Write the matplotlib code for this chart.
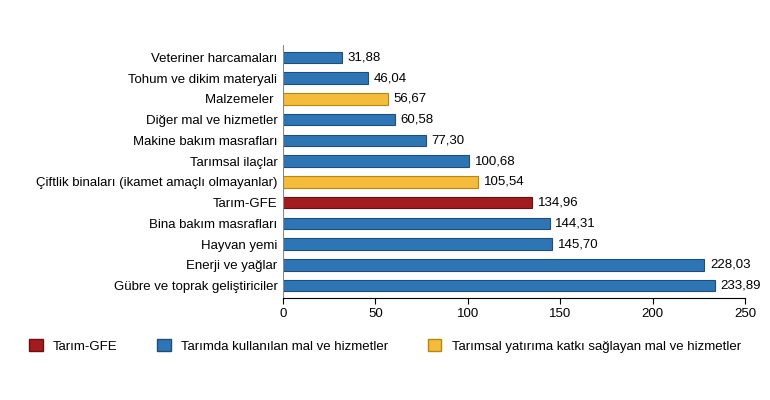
import matplotlib.pyplot as plt
from matplotlib.patches import Patch

plt.rcParams["font.family"] = ["Liberation Sans", "DejaVu Sans"]

categories = ["Veteriner harcamaları", "Tohum ve dikim materyali", "Malzemeler ",
              "Diğer mal ve hizmetler", "Makine bakım masrafları", "Tarımsal ilaçlar",
              "Çiftlik binaları (ikamet amaçlı olmayanlar)", "Tarım-GFE",
              "Bina bakım masrafları", "Hayvan yemi", "Enerji ve yağlar",
              "Gübre ve toprak geliştiriciler"]
values = [31.88, 46.04, 56.67, 60.58, 77.30, 100.68, 105.54, 134.96, 144.31, 145.70, 228.03, 233.89]
groups = ["b", "b", "y", "b", "b", "b", "y", "r", "b", "b", "b", "b"]

BLUE = "#2e75b6"
YELLOW = "#f5bc3c"
RED = "#a31b1e"
colors = {"b": BLUE, "y": YELLOW, "r": RED}
edges = {"b": "#1f4e79", "y": "#b8860b", "r": "#6b0f12"}

fig = plt.figure(figsize=(7.7, 4), dpi=100)
ax = fig.add_axes([283 / 770, 1 - 298 / 400, (745 - 283) / 770, (298 - 45) / 400])

ypos = list(range(len(categories)))[::-1]
ax.barh(ypos, values, height=0.55,
        color=[colors[g] for g in groups], edgecolor=[edges[g] for g in groups], linewidth=0.8)
for y, v in zip(ypos, values):
    ax.text(v + 3, y, f"{v:.2f}".replace(".", ","), va="center", ha="left", fontsize=9.5)

ax.set_yticks(ypos)
ax.set_yticklabels(categories, fontsize=9.5)
ax.set_xlim(0, 250)
ax.set_ylim(-0.6, len(categories) - 0.4)
ax.set_xticks(range(0, 251, 50))
ax.tick_params(axis="x", labelsize=9.5, length=4)
ax.tick_params(axis="y", length=0, pad=4)
for s in ["top", "right", "left"]:
    ax.spines[s].set_visible(False)
ax.axvline(0, color="#888888", linewidth=0.8)

handles = [Patch(facecolor=RED, edgecolor=edges["r"], label="Tarım-GFE"),
           Patch(facecolor=BLUE, edgecolor=edges["b"], label="Tarımda kullanılan mal ve hizmetler"),
           Patch(facecolor=YELLOW, edgecolor=edges["y"], label="Tarımsal yatırıma katkı sağlayan mal ve hizmetler")]
fig.legend(handles=handles, loc="center", bbox_to_anchor=(0.5, 1 - 346 / 400), ncol=3,
           frameon=False, fontsize=9.5, handlelength=1.0, handleheight=1.0, columnspacing=3.0)

fig.savefig("out.png", dpi=100)
